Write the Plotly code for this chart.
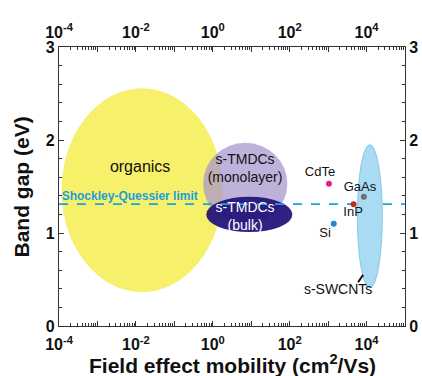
import plotly.graph_objects as go

# ---- data ----
x_range_log = [-4, 5]
y_range = [0, 3]
x_major_exp = [-4, -3, -2, -1, 0, 1, 2, 3, 4]
x_label_exp = [-4, -2, 0, 2, 4]
y_major = [0, 1, 2, 3]

# regions (ellipses): name, log10 mobility min/max, band gap min/max
region_names = ["organics", "s-TMDCs (monolayer)", "s-TMDCs (bulk)", "s-SWCNTs"]
region_logx_min = [-3.92, -0.25, -0.17, 3.76]
region_logx_max = [0.24, 1.94, 2.07, 4.41]
region_gap_min = [0.37, 1.09, 1.01, 0.41]
region_gap_max = [2.55, 1.97, 1.39, 1.95]
region_fill = ["#F6F06A", "rgba(165,148,205,0.72)", "rgba(30,15,120,0.92)", "#A9DBF2"]
region_line = ["#F6F06A", "rgba(0,0,0,0)", "rgba(0,0,0,0)", "#86C9EA"]

# inorganic semiconductors (points)
semi_names = ["CdTe", "GaAs", "InP", "Si"]
semi_mobility = [1050, 8500, 4600, 1400]
semi_gap = [1.53, 1.39, 1.31, 1.10]
semi_colors = ["#EC1C84", "#707070", "#B3311E", "#1C8AD2"]

sq_limit = 1.31

# label positions (mobility, gap)
lab_text = ["organics", "s-TMDCs<br>(monolayer)", "s-TMDCs<br>(bulk)", "CdTe", "GaAs", "InP", "Si", "s-SWCNTs"]
lab_x = [10**-1.89, 10**0.84, 10**0.84, 10**2.79, 10**3.83, 10**3.65, 10**2.92, 10**3.26]
lab_y = [1.70, 1.68, 1.17, 1.65, 1.49, 1.22, 0.99, 0.38]
lab_color = ["#111111", "#111111", "#FFFFFF", "#111111", "#111111", "#111111", "#111111", "#111111"]
lab_size = [16, 14, 14, 13, 13, 13, 13, 14]

leader_x = [10**3.78, 10**3.91]
leader_y = [0.47, 0.55]

FONT = "Liberation Sans, Arial, sans-serif"

fig = go.Figure()

shapes = []
for i in range(3):
    shapes.append(dict(type="circle", xref="x", yref="y", layer="below",
                       x0=10**region_logx_min[i], x1=10**region_logx_max[i],
                       y0=region_gap_min[i], y1=region_gap_max[i],
                       fillcolor=region_fill[i], line=dict(color=region_line[i], width=1)))
shapes.append(dict(type="line", xref="x", yref="y", layer="below",
                   x0=10**x_range_log[0], x1=10**x_range_log[1], y0=sq_limit, y1=sq_limit,
                   line=dict(color="#1AA3E0", width=1.6, dash="dash")))
shapes.append(dict(type="circle", xref="x", yref="y", layer="below",
                   x0=10**region_logx_min[3], x1=10**region_logx_max[3],
                   y0=region_gap_min[3], y1=region_gap_max[3],
                   fillcolor=region_fill[3], line=dict(color=region_line[3], width=1)))

fig.add_trace(go.Scatter(x=leader_x, y=leader_y, mode="lines",
                         line=dict(color="#111111", width=2), hoverinfo="skip", showlegend=False))

fig.add_trace(go.Scatter(x=semi_mobility, y=semi_gap, mode="markers",
                         marker=dict(color=semi_colors, size=6), showlegend=False))

fig.add_trace(go.Scatter(x=lab_x, y=lab_y, mode="text", text=lab_text,
                         textfont=dict(family=FONT, size=lab_size, color=lab_color),
                         textposition="middle center", showlegend=False, hoverinfo="skip"))

fig.add_trace(go.Scatter(x=[10**-3.93], y=[1.39], mode="text", text=["Shockley-Quessier limit"],
                         textposition="middle right",
                         textfont=dict(family=FONT, size=12, color="#1A9FD9", weight="bold"),
                         showlegend=False, hoverinfo="skip"))

# dummy trace for secondary axes
fig.add_trace(go.Scatter(x=[10**x_range_log[0]], y=[0], xaxis="x2", yaxis="y2",
                         mode="markers", marker=dict(opacity=0), showlegend=False, hoverinfo="skip"))

xtickvals = [10**e for e in x_major_exp]
xticktext = ["10<sup>%d</sup>" % e if e in x_label_exp else "" for e in x_major_exp]
xminor = [m * 10**e for e in x_major_exp for m in range(2, 10)]

axis_common = dict(showline=True, linecolor="#333333", linewidth=1.2, ticks="inside",
                   tickcolor="#333333", showgrid=False, zeroline=False, automargin=False,
                   tickfont=dict(family=FONT, size=16, color="#111111", weight="bold"))

fig.update_layout(
    width=422, height=376,
    margin=dict(l=59, r=17, t=47, b=50),
    paper_bgcolor="white", plot_bgcolor="white",
    shapes=shapes,
    xaxis=dict(type="log", range=x_range_log, tickmode="array", tickvals=xtickvals,
               ticktext=xticktext, ticklen=5, ticklabelstandoff=4,
               minor=dict(tickmode="array", tickvals=xminor, ticks="inside", ticklen=3,
                          tickcolor="#333333", showgrid=False),
               **axis_common),
    xaxis2=dict(type="log", range=x_range_log, overlaying="x", side="top", anchor="y",
                tickmode="array", tickvals=xtickvals, ticktext=xticktext, ticklen=5,
                ticklabelstandoff=2,
                minor=dict(tickmode="array", tickvals=xminor, ticks="inside", ticklen=3,
                           tickcolor="#333333", showgrid=False),
                **axis_common),
    yaxis=dict(range=y_range, tickmode="array", tickvals=y_major, ticklen=5,
               minor=dict(dtick=0.2, ticks="inside", ticklen=3, tickcolor="#333333", showgrid=False),
               **axis_common),
    yaxis2=dict(range=y_range, overlaying="y", side="right", anchor="x",
                tickmode="array", tickvals=y_major, ticklen=5,
                minor=dict(dtick=0.2, ticks="inside", ticklen=3, tickcolor="#333333", showgrid=False),
                **axis_common),
    annotations=[
        dict(text="Field effect mobility (cm<sup>2</sup>/Vs)", xref="paper", yref="paper",
             x=0.5, y=-0.137, xanchor="center", yanchor="middle", showarrow=False,
             font=dict(family=FONT, size=21, color="#111111", weight="bold")),
        dict(text="Band gap (eV)", xref="paper", yref="paper", textangle=-90,
             x=-0.107, y=0.5, xanchor="center", yanchor="middle", showarrow=False,
             font=dict(family=FONT, size=21, color="#111111", weight="bold")),
    ],
)

fig.write_html("out.html", config={"displayModeBar": False},
               post_script="document.body.style.margin='0px';")
